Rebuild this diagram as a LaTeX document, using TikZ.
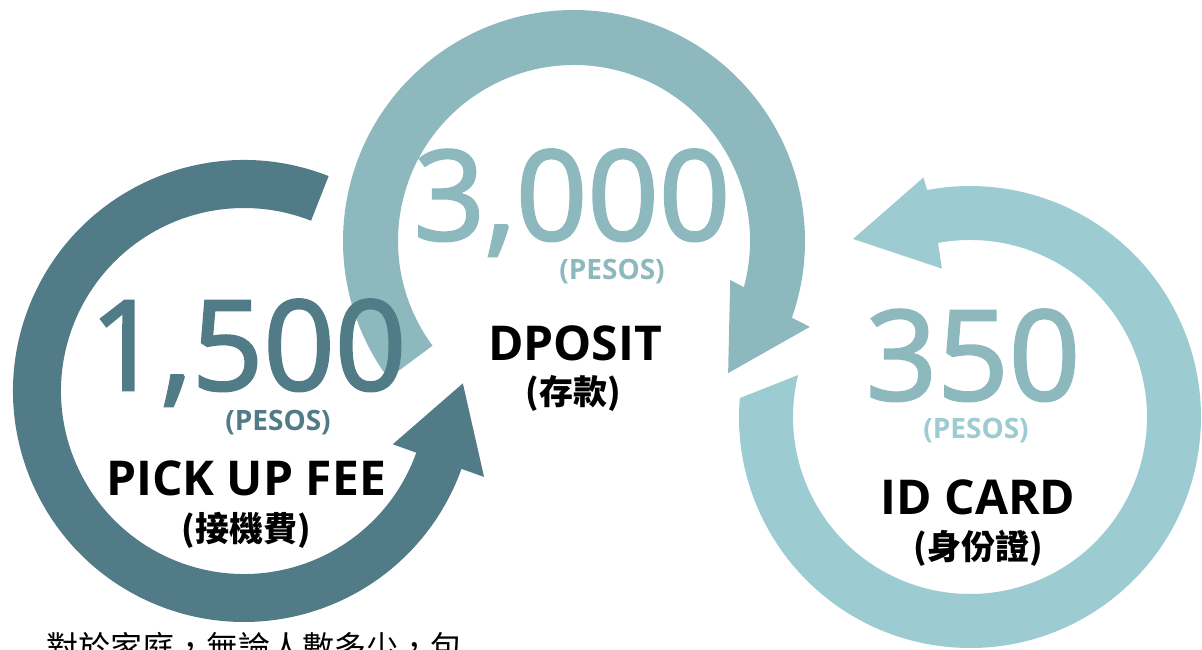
\documentclass[tikz,border=0pt]{standalone}
\usepackage{fontspec}
\setmainfont{Open Sans}
\newfontfamily\numfont[FakeBold=2]{Open Sans}
\newfontfamily\cjk{Noto Sans CJK TC}
\definecolor{ringA}{HTML}{527B88}
\definecolor{ringB}{HTML}{8DB9BE}
\definecolor{ringC}{HTML}{9DCBD2}
\tikzset{
  bignum/.style={font=\numfont\fontsize{125}{127}\selectfont, inner sep=0pt, anchor=base},
  pesos/.style={font=\bfseries\fontsize{28}{30}\selectfont, inner sep=0pt, anchor=base},
  title/.style={font=\bfseries\fontsize{48}{50}\selectfont, inner sep=0pt, anchor=base, text=black},
  zh/.style={font=\cjk\bfseries\fontsize{34}{36}\selectfont, inner sep=0pt, anchor=base, text=black},
}
\begin{document}
\begin{tikzpicture}[x=1pt,y=1pt]
\useasboundingbox (0,0) rectangle (1202,649);
% ring 1 (dark)
\begin{scope}[shift={(244,258)}]
\fill[ringA] (68.5:231) arc[start angle=68.5, end angle=340.3, radius=231]
  -- (340.3:255) -- (362:219) -- (340.3:158) -- (340.3:183)
  arc[start angle=340.3, end angle=68.5, radius=183] -- cycle;
\end{scope}
% ring 2 (teal)
\begin{scope}[shift={(574,408)}]
\fill[ringB] (216.5:231) arc[start angle=216.5, end angle=-19.4, radius=231]
  -- (-20:251) -- (-40.6:203) -- (-14:161) -- (-15.2:176)
  arc[start angle=-15.2, end angle=216.5, radius=176] -- cycle;
\end{scope}
% ring 3 (light)
\begin{scope}[shift={(970,232)}]
\fill[ringC] (175.3:231) arc[start angle=175.3, end angle=460.7, radius=231]
  -- (461:244) -- (483.3:213) -- (460.7:151) -- (460.4:177)
  arc[start angle=460.4, end angle=166.3, radius=177] -- cycle;
\end{scope}
% texts
\node[bignum, text=ringA] (n1) at (248,259) {1,500};
\node[pesos, text=ringA] (p1) at (278,219) {(PESOS)};
\node[title] (t1) at (246,154) {PICK UP FEE};
\node[zh] (z1) at (246,108) {(接機費)};
\node[bignum, text=ringB] (n2) at (572,409) {3,000};
\node[pesos, text=ringB] (p2) at (612,369) {(PESOS)};
\node[title] (t2) at (575,289) {DPOSIT};
\node[zh] (z2) at (573,245) {(存款)};
\node[bignum, text=ringB] (n3) at (973,249) {350};
\node[pesos, text=ringC] (p3) at (976,211) {(PESOS)};
\node[title] (t3) at (978,135) {ID CARD};
\node[zh] (z3) at (978,90) {(身份證)};
\node[font=\cjk\fontsize{32}{34}\selectfont, inner sep=0pt, anchor=base west, text=black] (note) at (46,-10) {對於家庭，無論人數多少，包};
\end{tikzpicture}
\end{document}
